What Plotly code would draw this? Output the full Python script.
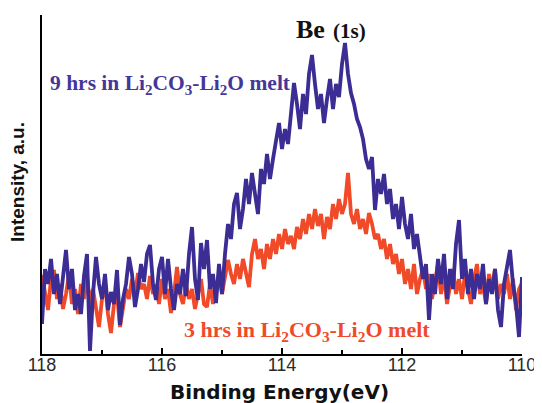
import plotly.graph_objects as go

# Binding-energy sampling grid (eV): 118.00 -> 110.00 in 0.05 eV steps
energy_start = 118.0
energy_step = 0.05
blue_9h = [
    30, 85, 70, 95, 60, 80, 50, 75, 104, 65, 85, 44, 60, 40, 78, 100, 3, 60, 97, 70,
    55, 80, 44, 62, 50, 84, 29, 55, 70, 97, 80, 47, 65, 90, 72, 100, 109, 70, 54, 85,
    97, 60, 95, 65, 44, 70, 60, 85, 58, 100, 127, 75, 54, 111, 85, 114, 65, 80, 51, 90,
    60, 100, 130, 115, 150, 161, 125, 145, 175, 150, 181, 160, 140, 185, 170, 200, 175, 195, 215, 231,
    205, 225, 210, 245, 271, 250, 225, 260, 240, 280, 299, 270, 245, 260, 231, 255, 275, 245, 270, 257,
    290, 311, 280, 261, 250, 235, 227, 215, 195, 185, 197, 144, 175, 160, 180, 150, 165, 135, 150, 125,
    157, 130, 115, 140, 105, 120, 95, 75, 90, 34, 80, 60, 95, 70, 100, 55, 85, 65, 110, 134,
    75, 95, 60, 85, 55, 80, 65, 90, 50, 75, 60, 85, 44, 27, 70, 85, 104, 70, 50, 17,
    77,
]
red_3h = [
    79, 60, 44, 75, 84, 55, 70, 45, 60, 80, 50, 65, 40, 70, 55, 78, 50, 65, 45, 27,
    55, 70, 40, 21, 50, 60, 27, 45, 65, 55, 75, 60, 81, 65, 70, 55, 78, 60, 70, 50,
    75, 55, 65, 41, 60, 87, 60, 50, 70, 55, 65, 45, 60, 75, 50, 47, 70, 50, 65, 80,
    60, 75, 94, 80, 70, 90, 75, 95, 80, 67, 100, 115, 95, 105, 85, 110, 95, 115, 100, 120,
    105, 125, 110, 118, 105, 127, 115, 135, 120, 140, 125, 145, 128, 140, 115, 137, 125, 150, 135, 155,
    140, 150, 181, 140, 130, 145, 125, 135, 120, 141, 130, 115, 120, 105, 115, 95, 110, 90, 100, 80,
    95, 70, 85, 65, 90, 60, 75, 85, 65, 80, 55, 75, 90, 60, 80, 50, 70, 85, 60, 75,
    55, 80, 65, 50, 75, 90, 60, 70, 50, 80, 65, 85, 55, 70, 60, 80, 55, 75, 44, 65,
    71,
]
tick_vals = [118, 116, 114, 112, 110]
tick_text = ["118", "116", "114", "112", "110"]

energy = [round(energy_start - energy_step * i, 2) for i in range(len(blue_9h))]

BLUE = "#3B2D93"
RED = "#F04A28"
SERIF = "Liberation Serif, Times New Roman, serif"

# the page body has an 8px margin, so the figure is sized to fill the rest
PAD = 8
W, H = 542 - PAD, 403 - PAD


def px(xp):
    return (xp - 42) / 480


def py(yp):
    return (354 - yp) / 339


fig = go.Figure()
fig.add_trace(go.Scatter(x=energy, y=red_3h, mode="lines",
                         line=dict(color=RED, width=3.8), showlegend=False))
fig.add_trace(go.Scatter(x=energy, y=blue_9h, mode="lines",
                         line=dict(color=BLUE, width=3.8), showlegend=False))

fig.update_layout(
    width=W, height=H,
    margin=dict(l=42 - PAD, r=20, t=15 - PAD, b=H - (354 - PAD)),
    paper_bgcolor="white", plot_bgcolor="white",
    font=dict(family="Liberation Sans, Arial, sans-serif", color="#222"),
    xaxis=dict(
        range=[118, 110], showgrid=False, zeroline=False,
        showline=True, linecolor="black", linewidth=2,
        tickmode="array", tickvals=tick_vals, ticktext=tick_text,
        ticks="inside", ticklen=6, tickwidth=2, tickcolor="black",
        ticklabelstandoff=-7,
        tickfont=dict(size=18, color="#2a2a2a", family="Liberation Sans, Arial"),
        minor=dict(dtick=1, ticks="inside", ticklen=4, tickwidth=2, tickcolor="black"),
    ),
    yaxis=dict(
        range=[0, 339], showgrid=False, zeroline=False,
        showline=True, linecolor="black", linewidth=2,
        showticklabels=False, ticks="",
    ),
    annotations=[
        dict(text="<b>Binding Energy(eV)</b>", xref="paper", yref="paper",
             x=px(279), y=py(392), showarrow=False,
             font=dict(family="DejaVu Sans", size=20, color="#111"),
             xanchor="center", yanchor="middle"),
        dict(text="<b>Intensity, a.u.</b>", xref="paper", yref="paper",
             x=px(18), y=py(182), showarrow=False, textangle=-90,
             font=dict(family="Liberation Sans, Arial", size=19, color="#111"),
             xanchor="center", yanchor="middle"),
        dict(text="<b>Be</b>", xref="paper", yref="paper",
             x=px(294), y=py(29), showarrow=False,
             font=dict(family=SERIF, size=26, color="#111"),
             xanchor="left", yanchor="middle"),
        dict(text="<b>(1s)</b>", xref="paper", yref="paper",
             x=px(331), y=py(31), showarrow=False,
             font=dict(family=SERIF, size=21, color="#111"),
             xanchor="left", yanchor="middle"),
        dict(text="<b>9 hrs in Li<sub>2</sub>CO<sub>3</sub>-Li<sub>2</sub>O melt</b>",
             xref="paper", yref="paper",
             x=px(48), y=py(84), showarrow=False,
             font=dict(family=SERIF, size=21.5, color="#45379A"),
             xanchor="left", yanchor="middle"),
        dict(text="<b>3 hrs in Li<sub>2</sub>CO<sub>3</sub>-Li<sub>2</sub>O melt</b>",
             xref="paper", yref="paper",
             x=px(182), y=py(331), showarrow=False,
             font=dict(family=SERIF, size=22, color="#F04A2A"),
             xanchor="left", yanchor="middle"),
    ],
)

fig.write_html("out.html")
